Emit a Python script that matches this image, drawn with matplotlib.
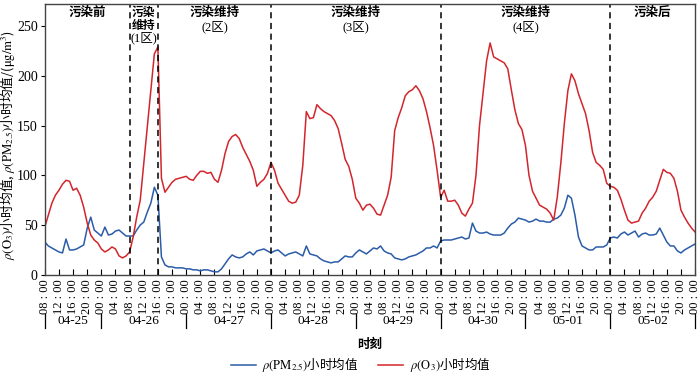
import numpy as np
import pandas as pd
import matplotlib
matplotlib.use('Agg')
import matplotlib.pyplot as plt
import matplotlib.dates as mdates
from matplotlib.ticker import FuncFormatter

plt.rcParams['font.family'] = ['Liberation Serif', 'Noto Sans CJK SC']
plt.rcParams['mathtext.fontset'] = 'stix'

# hourly values, 04-25 08:00 .. 05-03 00:00
times = pd.date_range('2019-04-25 08:00', '2019-05-03 00:00', freq='h')

o3 = [48, 60, 72, 80, 85, 91, 95, 94, 85, 87, 80, 68, 52, 40, 35, 32,                 # 04-25
      26, 23, 25, 28, 26, 19, 17, 19, 23, 38, 58, 75, 112, 150, 185, 222, 229, 97, 83, 88, 93, 96, 97, 98,   # 04-26
      99, 96, 95, 100, 104, 104, 102, 103, 96, 93, 105, 122, 134, 139, 141, 137, 128, 121, 114, 105, 89, 93, 96, 102,  # 04-27
      113, 105, 92, 86, 80, 74, 72, 73, 80, 110, 164, 157, 158, 171, 167, 164, 162, 160, 155, 147, 132, 116, 109, 96,  # 04-28
      77, 72, 65, 70, 71, 67, 61, 60, 70, 80, 98, 145, 158, 168, 180, 184, 186, 190, 185, 177, 164, 148, 130, 105,  # 04-29
      78, 85, 74, 74, 75, 70, 62, 59, 66, 72, 100, 150, 183, 215, 233, 219, 217, 215, 213, 207, 186, 166, 152, 146,  # 04-30
      130, 100, 84, 77, 70, 68, 66, 62, 55, 78, 112, 152, 185, 202, 195, 182, 172, 162, 145, 123, 113, 110, 106, 92,  # 05-01
      89, 88, 85, 76, 65, 55, 52, 53, 54, 62, 67, 74, 78, 84, 95, 106, 103, 102, 97, 84, 65, 58, 52, 47,  # 05-02
      43]

pm25 = [33, 29, 27, 25, 23, 22, 36, 25, 25, 26, 28, 30, 47, 58, 45, 42,
        39, 48, 40, 41, 44, 45, 42, 39, 39, 39, 45, 50, 53, 63, 72, 88, 80, 18, 10, 8, 8, 7, 7, 7,
        6, 6, 5, 5, 4, 5, 5, 4, 3, 3, 6, 11, 16, 20, 18, 17, 18, 21, 23, 20, 24, 25, 26, 24,
        22, 24, 25, 22, 19, 21, 22, 23, 21, 19, 29, 21, 20, 19, 16, 14, 13, 12, 13, 13, 16, 19, 18, 18,
        22, 25, 23, 21, 24, 27, 26, 29, 24, 22, 21, 17, 16, 15, 16, 18, 19, 20, 22, 24, 27, 27, 29, 27,
        34, 35, 35, 35, 36, 37, 38, 36, 37, 52, 44, 42, 42, 43, 41, 40, 40, 40, 42, 47, 51, 53, 57, 56,
        55, 53, 54, 56, 54, 54, 53, 53, 56, 57, 60, 67, 80, 77, 60, 38, 29, 27, 25, 25, 28, 28, 28, 30,
        37, 38, 37, 41, 43, 40, 42, 44, 38, 41, 42, 40, 40, 41, 47, 40, 33, 29, 29, 24, 22, 25, 27, 29,
        31]

# stage boundaries and labels
bounds = pd.to_datetime(['2019-04-26 08:00', '2019-04-26 16:00', '2019-04-28 00:00',
                         '2019-04-30 00:00', '2019-05-02 00:00'])
stage_titles = ['污染前', '污染\n维持', '污染维持', '污染维持', '污染维持', '污染后']
stage_subs = ['', '(1区)', '(2区)', '(3区)', '(4区)', '']

day_edges = pd.to_datetime(['2019-04-25 08:00', '2019-04-26 00:00', '2019-04-27 00:00', '2019-04-28 00:00',
                            '2019-04-29 00:00', '2019-04-30 00:00', '2019-05-01 00:00', '2019-05-02 00:00',
                            '2019-05-03 00:00'])
day_names = ['04-25', '04-26', '04-27', '04-28', '04-29', '04-30', '05-01', '05-02']

blue = '#2b5ca8'
red = '#d2262c'

fig = plt.figure(figsize=(7, 3.77), dpi=100)
ax = fig.add_axes([0.064, 0.271, 0.929, 0.718])

ax.plot(times, pm25, color=blue, lw=1.1, label=r'$\rho(\mathrm{PM}_{2.5})$小时均值')
ax.plot(times, o3, color=red, lw=1.1, label=r'$\rho(\mathrm{O}_3)$小时均值')

for b in bounds:
    ax.axvline(b, color='k', lw=1.1, ls=(0, (4, 3)))

ax.set_xlim(times[0], times[-1])
ax.set_ylim(0, 272)
ax.set_yticks([0, 50, 100, 150, 200, 250])
ax.tick_params(axis='y', direction='out', length=3, labelsize=10, pad=2)
ax.xaxis.set_major_locator(mdates.HourLocator(byhour=range(0, 24, 4)))
ax.xaxis.set_major_formatter(FuncFormatter(lambda v, p: mdates.num2date(v).strftime('%H : %M')))
ax.tick_params(axis='x', direction='in', length=4, labelsize=9, rotation=90, pad=3)
for s in ax.spines.values():
    s.set_color('#444444')
    s.set_linewidth(1.0)

# stage labels
tr = ax.get_xaxis_transform()
edges = [times[0]] + list(bounds) + [times[-1]]
for i in range(len(stage_titles)):
    mid = edges[i] + (edges[i + 1] - edges[i]) / 2
    title = stage_titles[i]
    if '\n' in title:
        t1, t2 = title.split('\n')
        ax.text(mid, 0.967, t1, ha='center', va='center', fontsize=8.5, fontweight='bold', transform=tr)
        ax.text(mid, 0.921, t2, ha='center', va='center', fontsize=8.5, fontweight='bold', transform=tr)
        ax.text(mid, 0.875, stage_subs[i], ha='center', va='center', fontsize=9, transform=tr)
    else:
        ax.text(mid, 0.967, title, ha='center', va='center', fontsize=9, fontweight='bold', transform=tr)
        if stage_subs[i]:
            ax.text(mid, 0.915, stage_subs[i], ha='center', va='center', fontsize=9, transform=tr)

# date row under the hour labels
for d in day_edges:
    ax.plot([d, d], [-0.143, -0.195], color='k', lw=0.9, transform=tr, clip_on=False)
for i, name in enumerate(day_names):
    mid = day_edges[i] + (day_edges[i + 1] - day_edges[i]) / 2
    ax.text(mid, -0.169, name, ha='center', va='center', fontsize=9.5, transform=tr)

ax.text(0.5, -0.258, '时刻', ha='center', va='center', fontsize=9, fontweight='bold',
        transform=ax.transAxes)

ax.set_ylabel(r'$\rho(\mathrm{O}_3)$小时均值, $\rho(\mathrm{PM}_{2.5})$小时均值/($\mathrm{\mu g/m^3}$)',
              fontsize=9.2, family='Noto Sans CJK SC')
ax.yaxis.set_label_coords(-0.042, 0.48)

fig.legend(loc='center', bbox_to_anchor=(0.515, 0.032), ncol=2, frameon=False,
           prop={'family': 'Noto Sans CJK SC', 'size': 9}, handlelength=2.0, columnspacing=1.6,
           handletextpad=0.5)

fig.savefig('out.png', dpi=100)
